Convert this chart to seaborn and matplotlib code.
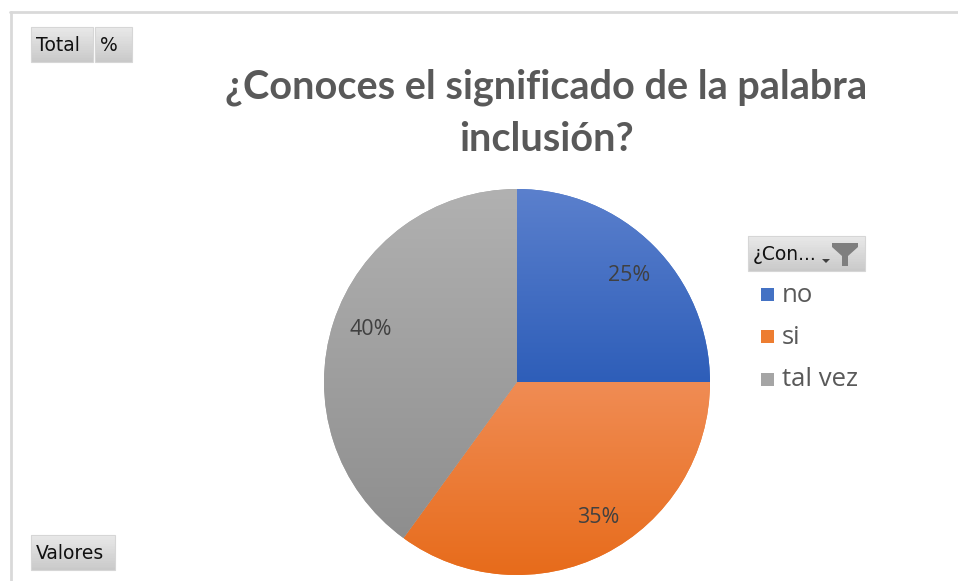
import numpy as np
import matplotlib
matplotlib.use("Agg")
import matplotlib.pyplot as plt
import seaborn as sns
from matplotlib.patches import Rectangle, Polygon
from matplotlib.lines import Line2D
from matplotlib.colors import LinearSegmentedColormap

# ---- data ----
categories = ["no", "si", "tal vez"]
values = [25, 35, 40]
title_text = "¿Conoces el significado de la palabra\ninclusión?"
legend_title = "¿Con..."
top_buttons = ["Total", "%"]
bottom_button = "Valores"

# colours (top, bottom of gradient)
grad_colors = {
    "no": ("#5B80CD", "#2E5EB9"),
    "si": ("#F08C54", "#E76B1A"),
    "tal vez": ("#B1B1B1", "#8E8E8E"),
}
flat_colors = ["#4472C4", "#ED7D31", "#A5A5A5"]

sns.set_theme(style="white")
plt.rcParams["font.family"] = ["Lato", "DejaVu Sans"]

W, H = 958, 581
fig = plt.figure(figsize=(W / 100, H / 100), dpi=100)
fig.patch.set_facecolor("white")

def fx(x):
    return x / W

def fy(y):
    return 1 - y / H

# frame lines (top and left)
fig.add_artist(Line2D([fx(10), 1.0], [fy(11.5), fy(11.5)], color="#D9D9D9", lw=2))
fig.add_artist(Line2D([fx(10.5), fx(10.5)], [fy(11.5), 0], color="#D9D9D9", lw=2))

# ---- pie ----
cx, cy, r = 517, 382, 193
ax = fig.add_axes([fx(cx - r), fy(cy + r), (2 * r) / W, (2 * r) / H])
wedges, texts, autotexts = ax.pie(
    values, colors=flat_colors, startangle=90, counterclock=False,
    autopct=lambda p: f"{p:.0f}%", pctdistance=0.80,
    textprops=dict(color="#404040", fontsize=15.5, family=["Open Sans", "DejaVu Sans"]),
    wedgeprops=dict(linewidth=0),
)
ax.set_xlim(-1, 1)
ax.set_ylim(-1, 1)
ax.set_aspect("equal")
ax.axis("off")

# vertical gradient fill for each wedge
for w, cat in zip(wedges, categories):
    top, bot = grad_colors[cat]
    cmap = LinearSegmentedColormap.from_list(cat, [bot, top])
    path = w.get_path()
    verts = w.get_transform().transform(path.vertices)
    dverts = ax.transData.inverted().transform(verts)
    ymin, ymax = dverts[:, 1].min(), dverts[:, 1].max()
    xmin, xmax = dverts[:, 0].min(), dverts[:, 0].max()
    grad = np.linspace(0, 1, 256).reshape(-1, 1)
    im = ax.imshow(grad, cmap=cmap, origin="lower", aspect="auto",
                   extent=[xmin, xmax, ymin, ymax], zorder=w.get_zorder() + 0.1)
    im.set_clip_path(w)
for t in autotexts:
    t.set_zorder(5)
# move labels toward Excel's best-fit positions
autotexts[2].set_position((-0.76, 0.27))
autotexts[1].set_position((0.42, -0.70))
autotexts[0].set_position((0.58, 0.55))
ax.set_xlim(-1, 1)
ax.set_ylim(-1, 1)

# ---- title ----
fig.text(fx(546), fy(113), title_text, ha="center", va="center",
         fontsize=28.5, fontweight="bold", color="#595959", linespacing=1.5)

# ---- buttons ----
def button(x0, y0, x1, y1, label, fs=13.5):
    n = 20
    for i in range(n):
        c = 0.91 - 0.12 * i / (n - 1)
        ya = y0 + (y1 - y0) * i / n
        yb = y0 + (y1 - y0) * (i + 1) / n
        fig.add_artist(Rectangle((fx(x0), fy(yb)), fx(x1) - fx(x0), fy(ya) - fy(yb),
                                 facecolor=(c, c, c), edgecolor="none", lw=0))
    fig.add_artist(Rectangle((fx(x0), fy(y1)), fx(x1) - fx(x0), fy(y0) - fy(y1),
                             facecolor="none", edgecolor="#D6D6D6", lw=0.8))
    fig.text(fx(x0 + 5), fy((y0 + y1) / 2 + 1), label, ha="left", va="center",
             fontsize=fs, color="#111111", family=["DejaVu Sans"])

button(31, 27, 93, 62, top_buttons[0])
button(95, 27, 132, 62, top_buttons[1])
button(31, 535, 115, 570, bottom_button)

# legend header button
button(748, 236, 865, 271, legend_title, fs=13.5)
# small sort arrow and funnel icon
fig.add_artist(Polygon([[fx(822), fy(259)], [fx(830), fy(259)], [fx(826), fy(263)]],
                       closed=True, facecolor="#404040", edgecolor="none"))
fig.add_artist(Polygon([[fx(832), fy(243)], [fx(858), fy(243)], [fx(858), fy(247)],
                        [fx(848), fy(256)], [fx(848), fy(266)], [fx(842), fy(266)],
                        [fx(842), fy(256)], [fx(832), fy(247)]],
                       closed=True, facecolor="#7F7F7F", edgecolor="none"))

# ---- legend entries ----
leg_y = [295, 337, 380]
for cat, col, y in zip(categories, flat_colors, leg_y):
    fig.add_artist(Rectangle((fx(761), fy(y + 6)), fx(13), 13 / H,
                             facecolor=col, edgecolor="none"))
    fig.text(fx(782), fy(y), cat, ha="left", va="center",
             fontsize=18.5, color="#595959", family=["Open Sans", "DejaVu Sans"])

fig.savefig("out.png", dpi=100, facecolor="white")
